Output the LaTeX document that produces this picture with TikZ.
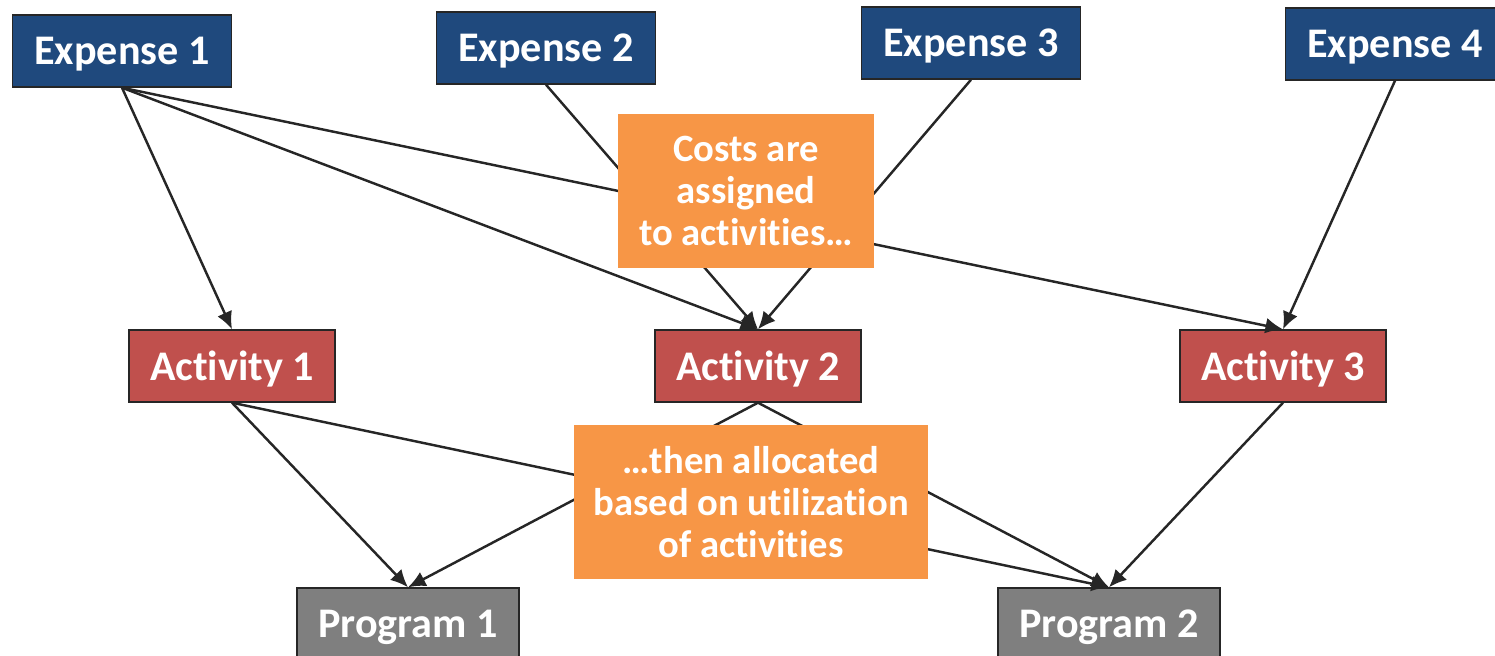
\documentclass[tikz,border=0pt]{standalone}
\usepackage{fontspec}
\setmainfont{Carlito}[Ligatures=NoCommon]
\usetikzlibrary{arrows.meta}

\definecolor{expblue}{HTML}{1F497D}
\definecolor{actred}{HTML}{C0504D}
\definecolor{proggray}{HTML}{7F7F7F}
\definecolor{noteorange}{HTML}{F79646}
\definecolor{linegray}{HTML}{262626}

\tikzset{
  box/.style={draw=black!85, line width=0.8pt, text=white, inner sep=0pt,
    minimum height=1.44cm, text depth=0pt,
    font=\bfseries\fontsize{24}{28}\selectfont},
  expense/.style={box, fill=expblue, minimum width=4.38cm},
  activity/.style={box, fill=actred, minimum width=4.12cm},
  program/.style={box, fill=proggray, minimum width=4.44cm},
  note/.style={fill=noteorange, text=white, align=center, inner sep=0pt,
    minimum height=3.1cm, font=\bfseries\fontsize{22}{24}\selectfont},
  link/.style={draw=linegray, line width=1.4pt, -{Latex[length=10pt,width=9pt]}},
}

\begin{document}
\begin{tikzpicture}[x=0.02cm, y=-0.02cm]
  \path[use as bounding box, clip] (0,0) rectangle (1495,656);

  % Expenses
  \node[expense] (e1) at (122,51)  {Expense 1};
  \node[expense] (e2) at (546,48)  {Expense 2};
  \node[expense] (e3) at (971,43)  {Expense 3};
  \node[expense] (e4) at (1395,44) {Expense 4};

  % Activities
  \node[activity] (a1) at (232,366)  {Activity 1};
  \node[activity] (a2) at (758,366)  {Activity 2};
  \node[activity] (a3) at (1283,366) {Activity 3};

  % Programs
  \node[program] (p1) at (408,624)  {Program 1};
  \node[program] (p2) at (1109,624) {Program 2};

  % Expenses to activities
  \draw[link] (e1.south) -- (a1.north);
  \draw[link] (e1.south) -- (a2.north);
  \draw[link] (e1.south) -- (a3.north);
  \draw[link] (e2.south) -- (a2.north);
  \draw[link] (e3.south) -- (a2.north);
  \draw[link] (e4.south) -- (a3.north);

  % Activities to programs
  \draw[link] (a1.south) -- (p1.north);
  \draw[link] (a1.south) -- (p2.north);
  \draw[link] (a2.south) -- (p1.north);
  \draw[link] (a2.south) -- (p2.north);
  \draw[link] (a3.south) -- (p2.north);

  % Notes on top of the lines
  \node[note, minimum width=5.14cm] (assign) at (746,191)
    {Costs are\\assigned\\to activities…};
  \node[note, minimum width=7.1cm] (alloc) at (751,502)
    {…then allocated\\based on utilization\\of activities};
\end{tikzpicture}
\end{document}
